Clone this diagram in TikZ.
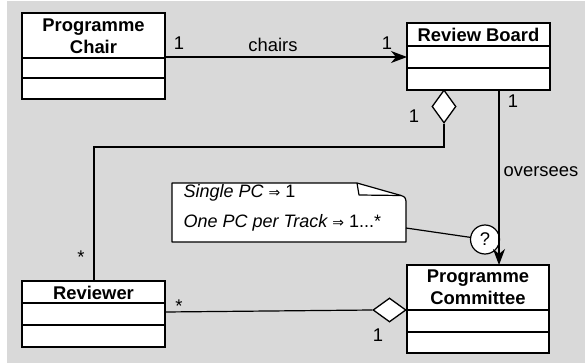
\documentclass[tikz,border=0pt]{standalone}
\usepackage{fontspec}
\setmainfont{Liberation Sans}
\newfontfamily\symfont{DejaVu Sans}
\usetikzlibrary{arrows.meta,shapes.geometric}
\newcommand{\implarrow}{{\symfont\fontsize{14}{14}\selectfont ⇒}}
\begin{document}
\begin{tikzpicture}[x=1pt,y=-1pt,line width=1.2pt,
  font=\fontsize{18.4}{22}\selectfont,
  umlbox/.style={draw,fill=white,inner sep=0pt},
  hdr/.style={font=\fontsize{18.4}{22}\selectfont\bfseries,align=center,inner sep=0pt},
  lbl/.style={inner sep=0pt},
  agg/.style={draw,fill=white,diamond,inner sep=0pt,line width=1.3pt},
  arr/.style={-{Stealth[length=16pt,width=12pt,inset=5pt]}}]
\useasboundingbox (0,0) rectangle (587,364);
\fill[gray!30] (7,1) rectangle (585,363);
% Programme Chair
\draw[umlbox] (22,13) rectangle (165,99);
\draw (22,58) -- (165,58) (22,78) -- (165,78);
\node[hdr] (pch) at (93.5,36) {Programme\\Chair};
\coordinate (pchR) at (165,57);
% Review Board
\draw[umlbox] (407,23) rectangle (550,90);
\draw (407,46) -- (550,46) (407,68) -- (550,68);
\node[hdr] (rb) at (478.5,35) {Review Board};
\coordinate (rbL) at (407,57);
\coordinate (rbB) at (499,90);
% Reviewer
\draw[umlbox] (22,281) rectangle (165,347);
\draw (22,303) -- (165,303) (22,325) -- (165,325);
\node[hdr] (rev) at (93.5,292.5) {Reviewer};
\coordinate (revT) at (94,281);
\coordinate (revR) at (165,312);
% Programme Committee
\draw[umlbox] (407,265) rectangle (549,353);
\draw (407,310) -- (549,310) (407,332) -- (549,332);
\node[hdr] (pc) at (478,287.5) {Programme\\Committee};
\coordinate (pcT) at (499,265);
% diamonds
\node[agg,minimum width=24pt,minimum height=33pt] (d1) at (444,106.5) {};
\node[agg,minimum width=33pt,minimum height=24pt] (d2) at (389.5,310) {};
% connectors
\draw[arr] (pchR) -- (rbL);
\draw (d1.south) -- (444,147) -- (94,147) -- (revT);
\draw (revR) -- (d2.west);
% note
\draw[fill=white,line join=round] (172,183) -- (357,183) -- (401,195.5) .. controls (405,197) .. (406,201) -- (406,242) -- (172,242) -- cycle;
\draw[line join=round] (357,183) -- (359,195) -- (401,195.5);
\node[lbl,anchor=west] (n1) at (183,193) {\fontsize{18}{22}\selectfont\itshape Single PC \upshape\implarrow{} 1};
\node[lbl,anchor=west] (n2) at (183,223) {\fontsize{18}{22}\selectfont\itshape One PC per Track \upshape\implarrow{} 1...*};
\node[draw,fill=white,circle,minimum size=29pt,inner sep=0pt] (q) at (485,239.5) {?};
\draw (406,228) -- (q);
\draw[arr] (rbB) -- (pcT);
% labels
\node[lbl] at (179,43) {1};
\node[lbl] at (273,45) {chairs};
\node[lbl] at (387,43) {1};
\node[lbl] at (414,116) {1};
\node[lbl] at (513,101) {1};
\node[lbl,anchor=west] at (503,172) {oversees};
\node[lbl] at (81,257) {*};
\node[lbl] at (179,306) {*};
\node[lbl] at (378,335) {1};
\end{tikzpicture}
\end{document}
